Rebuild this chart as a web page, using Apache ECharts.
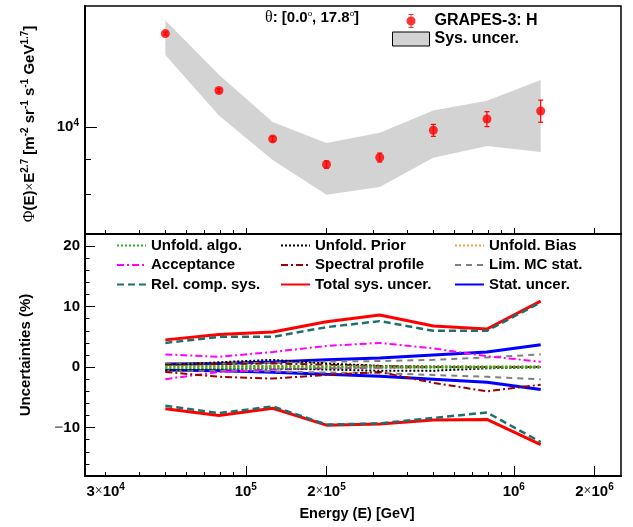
<!DOCTYPE html>
<html>
<head>
<meta charset="utf-8">
<script src="https://cdn.jsdelivr.net/npm/echarts@6/dist/echarts.min.js"></script>
<style>
  html, body { margin: 0; padding: 0; background: #fff; }
  #chart { width: 633px; height: 527px; }
</style>
</head>
<body>
<div id="chart"></div>
<script>
// Bin centres (GeV), 0.2 decades apart
const energy = [5.01e4, 7.94e4, 1.26e5, 2.00e5, 3.16e5, 5.01e5, 7.94e5, 1.26e6];
// Proton flux scaled by E^2.7  [m^-2 sr^-1 s^-1 GeV^1.7]
const flux = [13680, 11310, 9620, 8830, 9040, 9900, 10280, 10560];

// Uncertainty components (%), upper and lower envelopes
const statUnc        = [0.5, 0.6, 0.85, 1.2, 1.5, 2.0, 2.5, 3.7];
const totalSysUp     = [4.5, 5.4, 5.8, 7.5, 8.6, 6.8, 6.3, 10.9];
const totalSysDown   = [-6.9, -8.0, -6.8, -9.6, -9.4, -8.75, -8.65, -12.8];
const relCompUp      = [4.0, 5.0, 5.0, 6.6, 7.6, 6.0, 6.0, 10.7];
const relCompDown    = [-6.4, -7.6, -6.5, -9.5, -9.3, -8.4, -7.5, -12.4];
const acceptanceUp   = [2.1, 1.7, 2.5, 3.5, 4.0, 3.1, 1.8, 0.9];
const acceptanceDown = [-2.0, -0.8, -0.4, -0.2, -0.1, 0.0, 0.0, 0.0];
const spectralUp     = [0.4, 0.5, 0.6, 0.4, 0.2, 0.0, 0.0, 0.0];
const spectralDown   = [-0.8, -1.6, -1.9, -1.3, -0.8, -2.6, -4.0, -2.9];
const mcStatUp       = [0.6, 0.6, 0.7, 0.9, 1.0, 1.2, 1.6, 2.1];
const mcStatDown     = [-0.6, -0.6, -0.7, -0.9, -1.0, -1.3, -1.6, -2.0];
const priorUp        = [0.3, 0.8, 1.2, 0.6, 0.2, 0.1, 0.0, 0.0];
const priorDown      = [-0.5, -0.3, -0.2, -0.4, -0.6, -0.6, -0.2, 0.0];
const algoUp         = [0.2, 0.2, 0.2, 0.15, 0.1, 0.1, 0.1, 0.1];
const algoDown       = [-0.2, -0.2, -0.2, -0.15, -0.1, -0.1, -0.1, -0.1];
const biasUp         = [0.1, 0.1, 0.1, 0.1, 0.1, 0.1, 0.1, 0.1];
const biasDown       = [0.0, 0.0, 0.0, 0.0, 0.0, 0.0, 0.0, 0.0];

// Axis ranges and tick positions
const energyRange = [2.512e4, 2.512e6];
const fluxRange = [7000, 15000];
const uncRange = [-18, 22];
const energyMajorTicks = [1e5, 2e5, 1e6, 2e6];
const energyMinorTicks = [3e4, 4e4, 5e4, 6e4, 7e4, 8e4, 9e4, 3e5, 4e5, 5e5, 6e5, 7e5, 8e5, 9e5];
const energyTickLabels = [3e4, 1e5, 2e5, 1e6, 2e6];
const fluxMajorTicks = [1e4];
const fluxMinorTicks = [8000, 9000];
const uncMajorTicks = [-10, 0, 10, 20];
const uncMinorTicks = [-16, -14, -12, -8, -6, -4, -2, 2, 4, 6, 8, 12, 14, 16, 18, 22];

const SANS = 'Liberation Sans, Arial, Helvetica, sans-serif';
const SERIF = 'Liberation Serif, DejaVu Serif, Times New Roman, serif';
const lg = Math.log10;
const logE = energy.map(lg);

const supRich = {
  b: { fontFamily: SANS, fontWeight: 'bold', fontSize: 15, color: '#000' },
  x: { fontFamily: SERIF, fontSize: 14, color: '#000' },
  s: { fontFamily: SANS, fontWeight: 'bold', fontSize: 10, color: '#000', padding: [0, 0, 9, 0] }
};

function powerLabel(v) {
  const e = Math.floor(v + 1e-9);
  const m = Math.round(Math.pow(10, v - e));
  return (m === 1 ? '' : '{b|' + m + '}{x|×}') + '{b|10}{s|' + e + '}';
}

// Band and error bars in the flux panel follow the same percentages as the lower panel
const bandData = logE.map((x, i) => [x, lg(flux[i] * (1 + totalSysUp[i] / 100)), lg(flux[i] * (1 + totalSysDown[i] / 100))]);
const errData = logE.map((x, i) => [x, lg(flux[i] * (1 + statUnc[i] / 100)), lg(flux[i] * (1 - statUnc[i] / 100))]);
const pointData = logE.map((x, i) => [x, lg(flux[i])]);

const components = [
  { name: 'Total sys. uncer.', up: totalSysUp, down: totalSysDown, color: '#ff0000', width: 3, type: 'solid' },
  { name: 'Stat. uncer.', up: statUnc, down: statUnc.map(v => -v), color: '#0000ff', width: 3, type: 'solid' },
  { name: 'Rel. comp. sys.', up: relCompUp, down: relCompDown, color: '#1f6f6c', width: 2.5, type: [7, 4] },
  { name: 'Lim. MC stat.', up: mcStatUp, down: mcStatDown, color: '#808080', width: 2, type: [6, 5] },
  { name: 'Acceptance', up: acceptanceUp, down: acceptanceDown, color: '#ff00ff', width: 2, type: [7, 3, 2, 3] },
  { name: 'Spectral profile', up: spectralUp, down: spectralDown, color: '#990000', width: 2, type: [7, 3, 2, 3] },
  { name: 'Unfold. Prior', up: priorUp, down: priorDown, color: '#000000', width: 2, type: [2, 2] },
  { name: 'Unfold. Bias', up: biasUp, down: biasDown, color: '#f5a040', width: 2, type: [2, 2] },
  { name: 'Unfold. algo.', up: algoUp, down: algoDown, color: '#22b022', width: 2, type: [2, 2] }
];

const lowerSeries = [];
components.forEach(c => {
  [c.up, c.down].forEach(arr => {
    lowerSeries.push({
      type: 'line', name: c.name, xAxisIndex: 2, yAxisIndex: 2,
      data: logE.map((x, i) => [x, arr[i]]),
      symbol: 'none', silent: true,
      lineStyle: { color: c.color, width: c.width, type: c.type },
      itemStyle: { color: c.color }
    });
  });
});

function tickAxis(gridIndex, pos, range, values, len, opts) {
  const axis = {
    type: 'value', gridIndex: gridIndex, position: pos,
    min: range[0], max: range[1],
    axisLine: { show: false, onZero: false },
    axisTick: { show: true, inside: true, length: len, customValues: values, lineStyle: { color: '#000', width: 1 } },
    axisLabel: { show: false },
    splitLine: { show: false }
  };
  return Object.assign(axis, opts || {});
}
const mainLine = { show: true, onZero: false, lineStyle: { color: '#000', width: 2 } };

const xr = energyRange.map(lg);
const yr = fluxRange.map(lg);

const option = {
  animation: false,
  backgroundColor: '#fff',
  grid: [
    { left: 85, right: 12, top: 6, height: 228, show: true, borderColor: '#000', borderWidth: 1.5, backgroundColor: 'transparent' },
    { left: 85, right: 12, top: 234, height: 242, show: true, borderColor: '#000', borderWidth: 1.5, backgroundColor: 'transparent' }
  ],
  xAxis: [
    tickAxis(0, 'bottom', xr, energyMajorTicks.map(lg), 6, { axisLine: mainLine }),
    tickAxis(0, 'bottom', xr, energyMinorTicks.map(lg), 4),
    tickAxis(1, 'bottom', xr, energyMajorTicks.map(lg), 10, {
      axisLine: mainLine,
      axisLabel: {
        show: true, margin: 6, customValues: energyTickLabels.map(lg),
        formatter: powerLabel, rich: supRich
      }
    }),
    tickAxis(1, 'bottom', xr, energyMinorTicks.map(lg), 4)
  ],
  yAxis: [
    tickAxis(0, 'left', yr, fluxMajorTicks.map(lg), 12, {
      axisLine: mainLine,
      axisLabel: { show: true, margin: 6, customValues: fluxMajorTicks.map(lg), formatter: powerLabel, rich: supRich }
    }),
    tickAxis(0, 'left', yr, fluxMinorTicks.map(lg), 6),
    tickAxis(1, 'left', uncRange, uncMajorTicks, 10, {
      axisLine: mainLine,
      axisLabel: {
        show: true, margin: 5, customValues: uncMajorTicks,
        formatter: v => (v < 0 ? '{m|−}{b|' + Math.abs(v) + '}' : '{b|' + v + '}'),
        rich: { b: supRich.b, m: { fontFamily: SANS, fontWeight: 'bold', fontSize: 15, color: '#777' } }
      }
    }),
    tickAxis(1, 'left', uncRange, uncMinorTicks, 4.5)
  ],
  legend: [
    {
      orient: 'vertical', left: 392, top: 13, padding: 0, itemWidth: 37, itemHeight: 14, itemGap: 2,
      selectedMode: false,
      textStyle: { fontFamily: SANS, fontWeight: 'bold', fontSize: 16, color: '#000', lineHeight: 16 },
      data: [
        { name: 'GRAPES-3: H', icon: 'path://M2,0h5v1h-5z M4,0h1v14h-1z M2,13h5v1h-5z M0,7a4.5,4.5 0 1,1 9,0a4.5,4.5 0 1,1 -9,0z', itemStyle: { color: '#ff0000' } },
        { name: 'Sys. uncer.', icon: 'rect', itemStyle: { color: '#d3d3d3', borderColor: '#000', borderWidth: 1 } }
      ]
    },
    ...[
      { left: 116, data: ['Unfold. algo.', 'Acceptance', 'Rel. comp. sys.'] },
      { left: 280, data: ['Unfold. Prior', 'Spectral profile', 'Total sys. uncer.'] },
      { left: 454, data: ['Unfold. Bias', 'Lim. MC stat.', 'Stat. uncer.'] }
    ].map(col => ({
      orient: 'vertical', left: col.left, top: 238, padding: 0, itemWidth: 29, itemHeight: 14, itemGap: 4.5,
      selectedMode: false,
      // line-only keys: hide the marker that line series add to their legend icon
      itemStyle: { opacity: 0, color: 'transparent', borderWidth: 0 },
      textStyle: { fontFamily: SANS, fontWeight: 'bold', fontSize: 15, color: '#000', lineHeight: 15 },
      data: col.data
    }))
  ],
  graphic: [
    {
      type: 'text', x: 265, y: 18,
      style: {
        text: '{g|θ}{b|: [0.0}{d|o}{b|, 17.8}{d|o}{b|]}',
        verticalAlign: 'middle', align: 'left',
        rich: {
          g: { fontFamily: SERIF, fontSize: 16, color: '#000' },
          b: { fontFamily: SANS, fontWeight: 'bold', fontSize: 15, color: '#000' },
          d: { fontFamily: SANS, fontSize: 8, color: '#000', padding: [0, 0, 8, 0] }
        }
      }
    },
    {
      type: 'text', x: 30, y: 124, rotation: Math.PI / 2,
      style: {
        text: '{g|Φ}{b|(E)}{x|×}{b|E}{s|2.7}{b| [m}{s|-2}{b| sr}{s|-1}{b| s}{s|-1}{b| GeV}{s|1.7}{b|]}',
        align: 'center', verticalAlign: 'middle',
        rich: {
          g: { fontFamily: SERIF, fontSize: 16, color: '#000' },
          b: supRich.b, x: supRich.x, s: supRich.s
        }
      }
    },
    {
      type: 'text', x: 26, y: 355, rotation: Math.PI / 2,
      style: {
        text: 'Uncertainties (%)', align: 'center', verticalAlign: 'middle',
        fontFamily: SANS, fontWeight: 'bold', fontSize: 15, fill: '#000'
      }
    },
    {
      type: 'text', x: 357, y: 514,
      style: {
        text: 'Energy (E) [GeV]', align: 'center', verticalAlign: 'middle',
        fontFamily: SANS, fontWeight: 'bold', fontSize: 14.5, fill: '#000'
      }
    }
  ],
  series: [
    {
      type: 'custom', name: 'Sys. uncer.', xAxisIndex: 0, yAxisIndex: 0, silent: true,
      data: bandData, encode: { x: 0, y: [1, 2] },
      itemStyle: { color: '#d3d3d3' },
      renderItem: (params, api) => {
        if (params.dataIndex !== 0) return null;
        const upper = bandData.map(d => api.coord([d[0], d[1]]));
        const lower = bandData.map(d => api.coord([d[0], d[2]])).reverse();
        return { type: 'polygon', shape: { points: upper.concat(lower) }, style: { fill: '#d3d3d3' } };
      }
    },
    {
      type: 'custom', name: 'errors', xAxisIndex: 0, yAxisIndex: 0, silent: true,
      data: errData, encode: { x: 0, y: [1, 2] }, z: 3,
      renderItem: (params, api) => {
        const x = api.value(0);
        const t = api.coord([x, api.value(1)]);
        const b = api.coord([x, api.value(2)]);
        const w = 2.5;
        const st = { stroke: '#ff0000', lineWidth: 1.2 };
        return {
          type: 'group', children: [
            { type: 'line', shape: { x1: t[0], y1: t[1], x2: b[0], y2: b[1] }, style: st },
            { type: 'line', shape: { x1: t[0] - w, y1: t[1], x2: t[0] + w, y2: t[1] }, style: st },
            { type: 'line', shape: { x1: b[0] - w, y1: b[1], x2: b[0] + w, y2: b[1] }, style: st }
          ]
        };
      }
    },
    {
      type: 'scatter', name: 'GRAPES-3: H', xAxisIndex: 0, yAxisIndex: 0, silent: true, z: 4,
      data: pointData, symbol: 'circle', symbolSize: 9,
      itemStyle: { color: '#ff0000' }
    },
    ...lowerSeries
  ]
};

const chart = echarts.init(document.getElementById('chart'), null, { renderer: 'canvas' });
chart.setOption(option);
</script>
</body>
</html>
